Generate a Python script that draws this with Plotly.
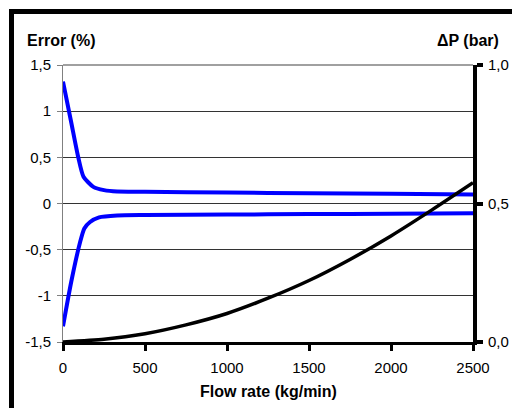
import plotly.graph_objects as go

# ---- data ----
flow_upper = [0, 50, 93, 125, 185, 250, 330, 500, 1000, 1500, 2000, 2500]
err_upper = [1.32, 0.88, 0.50, 0.29, 0.18, 0.145, 0.13, 0.128, 0.118, 0.112, 0.105, 0.097]

flow_lower = [0, 50, 104, 130, 165, 220, 330, 500, 1000, 1500, 2000, 2500]
err_lower = [-1.33, -0.85, -0.42, -0.27, -0.20, -0.15, -0.13, -0.125, -0.12, -0.115, -0.11, -0.105]

flow_dp = [0, 250, 500, 750, 1000, 1250, 1500, 1750, 2000, 2250, 2500]
dp_bar = [0.0, 0.01, 0.03, 0.062, 0.103, 0.158, 0.222, 0.298, 0.383, 0.477, 0.575]

x_ticks = [0, 500, 1000, 1500, 2000, 2500]
x_ticktext = ["0", "500", "1000", "1500", "2000", "2500"]
y_ticks = [-1.5, -1, -0.5, 0, 0.5, 1, 1.5]
y_ticktext = ["-1,5", "-1", "-0,5", "0", "0,5", "1", "1,5"]
y2_ticks = [0, 0.5, 1.0]
y2_ticktext = ["0,0", "0,5", "1,0"]

FONT = "Liberation Sans, Arial, sans-serif"

fig = go.Figure()
fig.add_trace(go.Scatter(x=flow_upper, y=err_upper, mode="lines",
                         line=dict(color="#0000FF", width=4, shape="spline", smoothing=0.6),
                         showlegend=False, yaxis="y"))
fig.add_trace(go.Scatter(x=flow_lower, y=err_lower, mode="lines",
                         line=dict(color="#0000FF", width=4, shape="spline", smoothing=0.6),
                         showlegend=False, yaxis="y"))
fig.add_trace(go.Scatter(x=flow_dp, y=dp_bar, mode="lines",
                         line=dict(color="#000000", width=3.5, shape="spline", smoothing=0.6),
                         showlegend=False, yaxis="y2"))

# figure coordinates (page has an 8px body margin)
L, R, T, B = 55, 55, 57, 74
W, H = 520, 408
pw, ph = W - L - R, H - T - B

def px(x):
    return (x - L) / pw

def py(y):
    return (H - B - y) / ph

fig.update_layout(
    width=W, height=H,
    margin=dict(l=L, r=R, t=T, b=B, pad=0, autoexpand=False),
    paper_bgcolor="white", plot_bgcolor="white",
    font=dict(family=FONT, size=15, color="black"),
    showlegend=False,
    xaxis=dict(range=[0, 2500], tickvals=x_ticks, ticktext=x_ticktext,
               showgrid=False, zeroline=False,
               showline=True, linecolor="black", linewidth=3,
               ticks="outside", ticklen=6, tickwidth=3, tickcolor="black",
               ticklabelstandoff=4, automargin=False,
               tickfont=dict(size=15)),
    xaxis2=dict(range=[0, 2500], tickvals=x_ticks, overlaying="x", side="bottom",
                anchor="y", showgrid=False, zeroline=False, showline=False,
                ticks="inside", ticklen=5, tickwidth=3, tickcolor="black",
                showticklabels=False),
    yaxis=dict(range=[-1.5, 1.5], tickvals=y_ticks, ticktext=y_ticktext,
               showgrid=True, gridcolor="#333333", gridwidth=1, zeroline=False,
               showline=True, linecolor="#808080", linewidth=1,
               ticks="outside", ticklen=5, tickwidth=1, tickcolor="#808080",
               ticklabelstandoff=3, automargin=False,
               tickfont=dict(size=15)),
    yaxis2=dict(range=[0, 1], tickvals=y2_ticks, ticktext=y2_ticktext,
                overlaying="y", side="right", anchor="x",
                showgrid=False, zeroline=False,
                showline=True, linecolor="black", linewidth=4,
                ticks="outside", ticklen=6, tickwidth=4, tickcolor="black",
                ticklabelstandoff=2, automargin=False,
                tickfont=dict(size=15)),
    yaxis3=dict(range=[0, 1], tickvals=y2_ticks, overlaying="y", side="right",
                anchor="x", showgrid=False, zeroline=False, showline=False,
                ticks="inside", ticklen=5, tickwidth=4, tickcolor="black",
                showticklabels=False),
    shapes=[
        dict(type="line", xref="paper", yref="paper", x0=0, x1=1, y0=1, y1=1,
             line=dict(color="#808080", width=1.5), layer="below"),
        dict(type="rect", xref="paper", yref="paper",
             x0=px(3.5), x1=3, y0=-3, y1=py(3.5),
             line=dict(color="black", width=5), fillcolor="rgba(0,0,0,0)"),
    ],
    annotations=[
        dict(text="<b>Error (%)</b>", xref="paper", yref="paper",
             x=px(17), y=py(32), xanchor="left", yanchor="middle",
             showarrow=False, font=dict(size=16, family=FONT)),
        dict(text="<b>ΔP (bar)</b>", xref="paper", yref="paper",
             x=px(493), y=py(32), xanchor="right", yanchor="middle",
             showarrow=False, font=dict(size=16, family=FONT)),
        dict(text="<b>Flow rate (kg/min)</b>", xref="paper", yref="paper",
             x=0.5, y=py(383), xanchor="center", yanchor="middle",
             showarrow=False, font=dict(size=16, family=FONT)),
    ],
)

fig.write_html("out.html")
